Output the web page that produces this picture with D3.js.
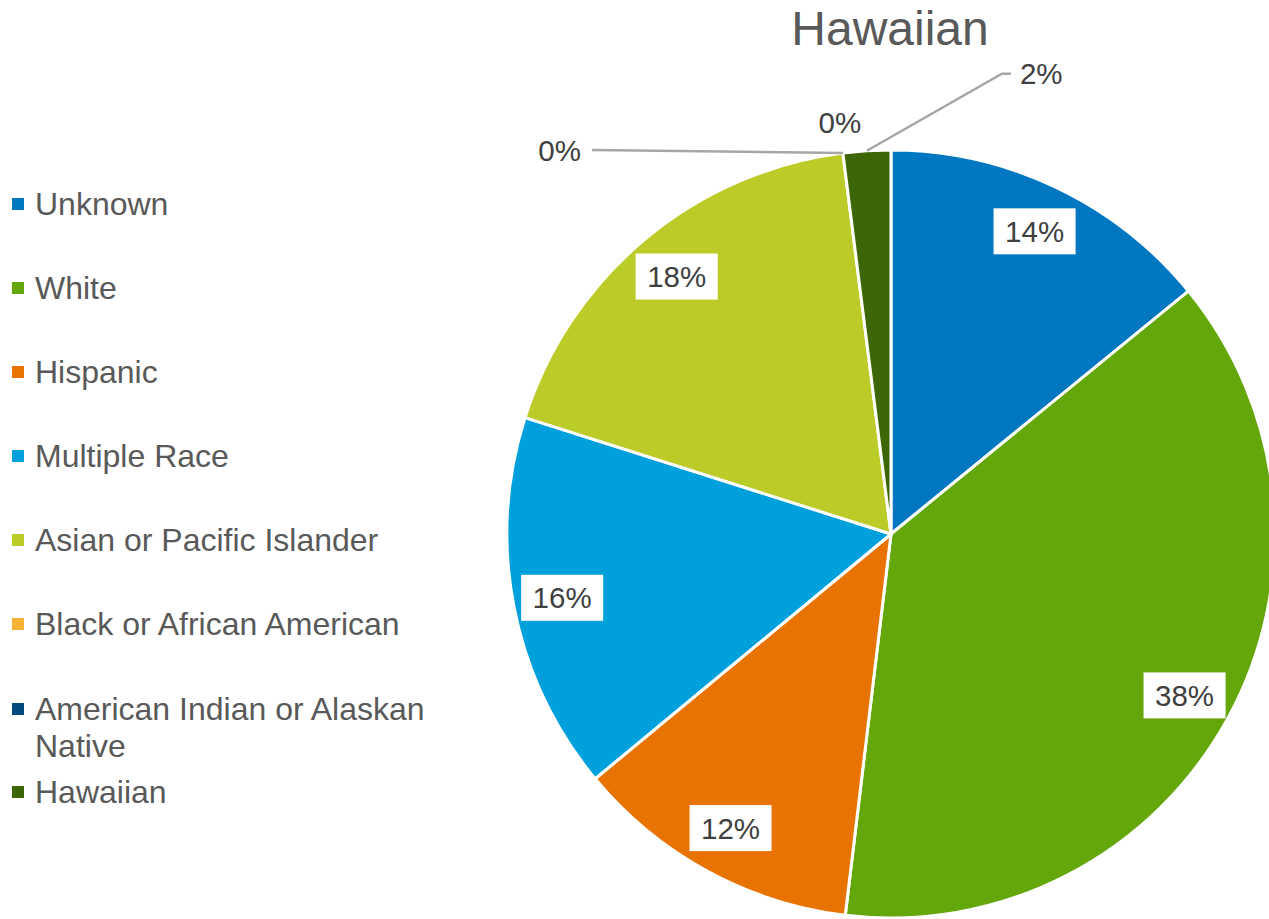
<!DOCTYPE html>
<html>
<head>
<meta charset="utf-8">
<script src="https://cdn.jsdelivr.net/npm/d3@7"></script>
<style>
  html, body { margin: 0; padding: 0; background: #fff; }
  svg { display: block; }
  text { font-family: "Liberation Sans", Arial, sans-serif; }
</style>
</head>
<body>
<div id="chart"></div>
<script>
// ---- Data ----
const title = "Hawaiian";
const categories = ["Unknown", "White", "Hispanic", "Multiple Race", "Asian or Pacific Islander", "Black or African American", "American Indian or Alaskan Native", "Hawaiian"];
const values = [14.1, 37.8, 12.1, 15.9, 18.1, 0, 0, 2.0];
const labels = ["14%", "38%", "12%", "16%", "18%", "0%", "0%", "2%"];
const colors = ["#0077C0", "#64A70B", "#E97300", "#00A0DC", "#BDCB29", "#F6B334", "#034A80", "#3D6606"];
const legendLines = [["Unknown"], ["White"], ["Hispanic"], ["Multiple Race"], ["Asian or Pacific Islander"], ["Black or African American"], ["American Indian or Alaskan", "Native"], ["Hawaiian"]];

// ---- Layout ----
const W = 1269, H = 919;
const cx = 891, cy = 534, R = 384;
const labelR = 335;

const svg = d3.select("#chart").append("svg").attr("width", W).attr("height", H);

// Title
svg.append("text")
  .attr("x", cx - 1).attr("y", 45)
  .attr("text-anchor", "middle")
  .attr("font-size", 48)
  .attr("fill", "#595959")
  .text(title);

const data = categories.map((c, i) => ({ cat: c, value: values[i], label: labels[i], color: colors[i], i }));

const pie = d3.pie().value(d => d.value).sort(null);
const arcs = pie(data);
const arc = d3.arc().innerRadius(0).outerRadius(R);
const labelArc = d3.arc().innerRadius(labelR).outerRadius(labelR);

const g = svg.append("g").attr("transform", `translate(${cx},${cy})`);

g.selectAll("path.slice")
  .data(arcs.filter(a => a.data.value > 0))
  .join("path")
  .attr("class", "slice")
  .attr("d", arc)
  .attr("fill", d => d.data.color)
  .attr("stroke", "#fff")
  .attr("stroke-width", 3)
  .attr("stroke-linejoin", "round");

// Inside labels
const labelFont = 29.5;
const inside = arcs.filter(a => a.data.value >= 5);
const ig = g.selectAll("g.inlabel").data(inside).join("g")
  .attr("class", "inlabel")
  .attr("transform", d => { const c = labelArc.centroid(d); return `translate(${c[0]},${c[1]})`; });
ig.append("rect")
  .attr("fill", "#fff");
ig.append("text")
  .attr("text-anchor", "middle")
  .attr("y", labelFont * 0.36)
  .attr("font-size", labelFont)
  .attr("fill", "#404040")
  .text(d => d.data.label);
ig.each(function() {
  const t = d3.select(this).select("text").node().getBBox();
  d3.select(this).select("rect")
    .attr("x", t.x - 11.5).attr("width", t.width + 23)
    .attr("y", -23).attr("height", 46);
});

// Outside labels (small slices): leader geometry relative to arc edge point
const outsideLayout = {
  5: { line: [[-251, -3]], text: [-262, 8], anchor: "end" },
  6: { line: null, text: [-3, -20], anchor: "middle" },
  7: { line: [[135, -77], [144, -77]], text: [153, -67], anchor: "start" }
};
const outside = arcs.filter(a => a.data.value < 5);
outside.forEach(a => {
  const lay = outsideLayout[a.data.i];
  const mid = (a.startAngle + a.endAngle) / 2;
  const ang = a.data.value > 0 ? mid : a.startAngle;
  const px = R * Math.sin(ang), py = -R * Math.cos(ang);
  if (lay.line) {
    const pts = [[px, py]].concat(lay.line.map(p => [px + p[0], py + p[1]]));
    g.append("path")
      .attr("d", d3.line()(pts))
      .attr("fill", "none")
      .attr("stroke", "#A6A6A6")
      .attr("stroke-width", 2.5);
  }
  g.append("text")
    .attr("x", px + lay.text[0]).attr("y", py + lay.text[1])
    .attr("text-anchor", lay.anchor)
    .attr("font-size", labelFont)
    .attr("fill", "#404040")
    .text(a.data.label);
});

// Legend
const legendFont = 32;
const rowY = [215, 299, 383, 467, 551, 635, 720, 803];
const lg = svg.append("g");
legendLines.forEach((lines, i) => {
  const y = rowY[i];
  lg.append("rect")
    .attr("x", 12).attr("y", y - 17)
    .attr("width", 12).attr("height", 12)
    .attr("fill", colors[i]);
  const t = lg.append("text")
    .attr("x", 35).attr("y", y)
    .attr("font-size", legendFont)
    .attr("fill", "#595959");
  lines.forEach((ln, j) => {
    t.append("tspan").attr("x", 35).attr("dy", j === 0 ? 0 : 37).text(ln);
  });
});
</script>
</body>
</html>
